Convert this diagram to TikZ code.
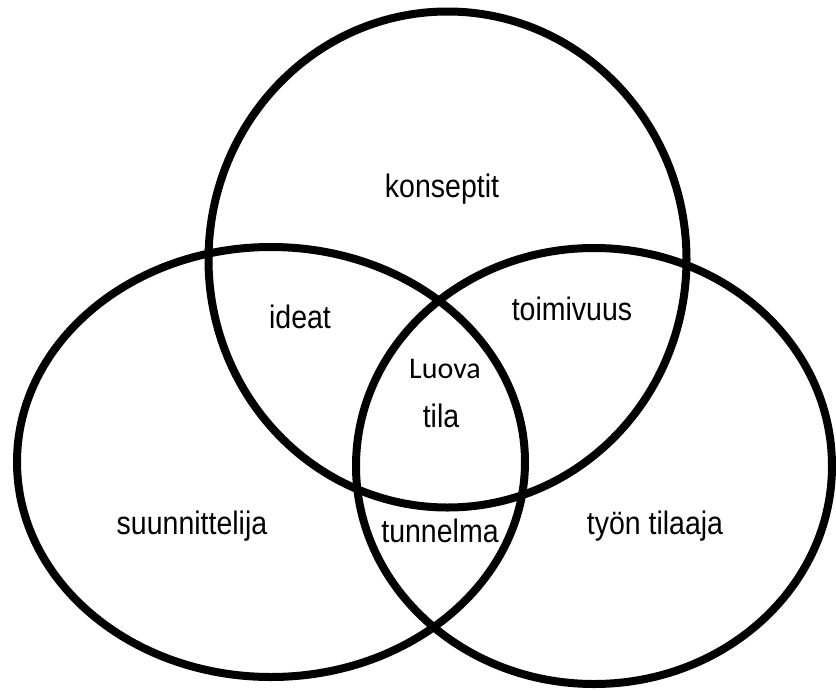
\documentclass[tikz,border=0pt]{standalone}
\usepackage{fontspec}
\usepackage{graphicx}
\setmainfont{Liberation Sans}
\newfontfamily\luovafont{Carlito}
\newcommand{\tallt}[1]{\scalebox{1}[1.14]{#1}}
\begin{document}
\begin{tikzpicture}[x=1pt,y=-1pt,
  ring/.style={line width=8pt},
  lbl/.style={anchor=base,inner sep=0pt,font=\fontsize{28.5}{34}\selectfont},
  lblc/.style={anchor=base,inner sep=0pt,font=\luovafont\fontsize{30}{36}\selectfont}]
\useasboundingbox (0,0) rectangle (836,691);
\fill[white] (0,0) rectangle (836,691);
\coordinate (ctop) at (447.5,259.5);
\coordinate (cleft) at (271,462);
\coordinate (cright) at (594,466);
\draw[ring] (ctop) ellipse [x radius=239, y radius=248];
\draw[ring] (cleft) ellipse [x radius=254, y radius=215];
\draw[ring] (cright) ellipse [x radius=238, y radius=218];
\node[lbl] (konseptit) at (442,197) {\tallt{konseptit}};
\node[lbl] (ideat) at (300,328) {\tallt{ideat}};
\node[lbl] (toimivuus) at (572,320) {\tallt{toimivuus}};
\node[lblc] (luova) at (445,378) {Luova};
\node[lbl] (tila) at (441,427) {\tallt{tila}};
\node[lbl] (suunnittelija) at (192,534) {\tallt{suunnittelija}};
\node[lbl] (tunnelma) at (440,542) {\tallt{tunnelma}};
\node[lbl] (tilaaja) at (655,534) {\tallt{työn tilaaja}};
\end{tikzpicture}
\end{document}
